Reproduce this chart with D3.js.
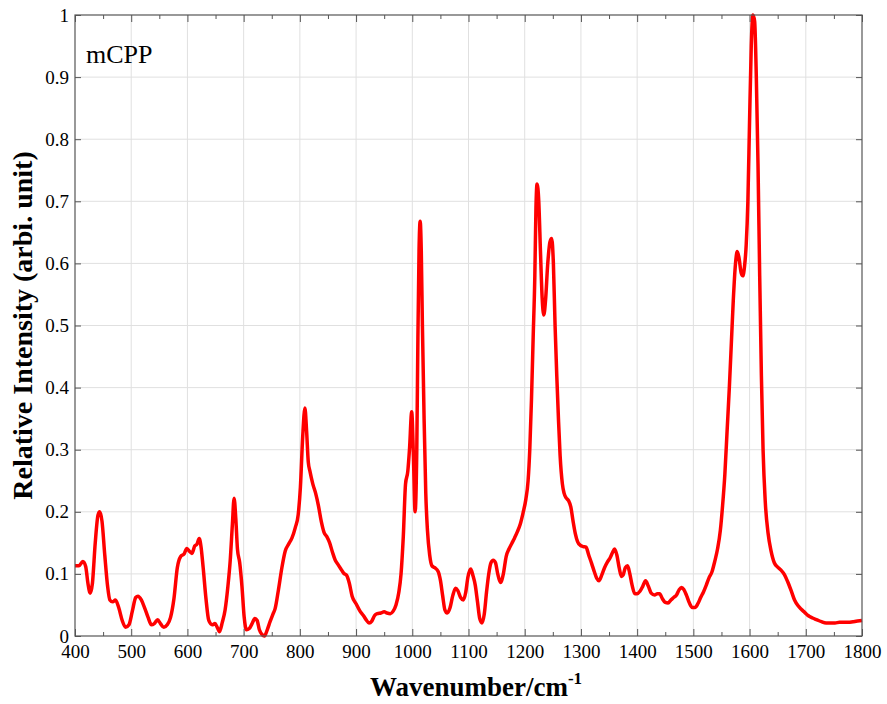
<!DOCTYPE html>
<html>
<head>
<meta charset="utf-8">
<script src="https://cdn.jsdelivr.net/npm/d3@7"></script>
<style>
  body { margin: 0; background: #fff; }
  svg { display: block; font-family: "Liberation Serif", "Times New Roman", serif; }
</style>
</head>
<body>
<svg id="chart" width="887" height="704"></svg>
<script>
// Raman spectrum of mCPP
var wavenumber = [
  400, 407, 414, 419, 423, 427, 431, 436, 441, 444, 448, 453, 458, 462, 467, 472, 478, 484, 490, 496,
  502, 508, 512, 518, 524, 530, 536, 541, 547, 552, 558, 564, 570, 576, 582, 588, 594, 599, 604, 608,
  613, 617, 621, 624, 628, 633, 638, 644, 649, 653, 657, 662, 667, 672, 676, 680, 683, 686, 689, 693,
  697, 701, 705, 710, 715, 720, 724, 728, 733, 737, 742, 747, 752, 756, 762, 768, 774, 780, 786, 792,
  797, 801, 805, 809, 812, 815, 818, 823, 828, 833, 838, 843, 848, 853, 858, 863, 868, 873, 878, 883,
  888, 893, 900, 907, 913, 918, 923, 928, 933, 938, 944, 950, 955, 961, 966, 971, 976, 980, 984, 988,
  992, 995, 999, 1002, 1005, 1008, 1010, 1012, 1014, 1016, 1018, 1021, 1024, 1027, 1031, 1035, 1040, 1046, 1050, 1054,
  1058, 1062, 1067, 1072, 1077, 1081, 1086, 1091, 1095, 1099, 1104, 1108, 1112, 1116, 1120, 1124, 1128, 1132, 1136, 1140,
  1144, 1148, 1152, 1157, 1162, 1167, 1172, 1177, 1182, 1187, 1192, 1197, 1202, 1206, 1209, 1212, 1215, 1218, 1220, 1222,
  1225, 1228, 1231, 1234, 1237, 1241, 1245, 1248, 1251, 1254, 1257, 1260, 1263, 1267, 1270, 1274, 1278, 1282, 1286, 1290,
  1294, 1299, 1304, 1309, 1314, 1319, 1324, 1328, 1332, 1337, 1342, 1347, 1352, 1356, 1360, 1364, 1368, 1372, 1375, 1379,
  1383, 1387, 1391, 1396, 1400, 1405, 1410, 1415, 1420, 1425, 1431, 1436, 1440, 1445, 1450, 1455, 1460, 1465, 1470, 1475,
  1479, 1483, 1488, 1493, 1498, 1503, 1508, 1513, 1518, 1523, 1528, 1533, 1538, 1543, 1548, 1552, 1556, 1560, 1564, 1568,
  1571, 1575, 1578, 1581, 1585, 1588, 1591, 1594, 1597, 1600, 1603, 1606, 1609, 1612, 1615, 1618, 1621, 1624, 1628, 1633,
  1638, 1644, 1650, 1656, 1662, 1668, 1674, 1680, 1686, 1692, 1698, 1704, 1712, 1720, 1728, 1736, 1744, 1752, 1760, 1768,
  1776, 1784, 1792, 1800
];
var intensity = [
  0.113, 0.113, 0.120, 0.112, 0.085, 0.069, 0.085, 0.150, 0.195, 0.200, 0.185, 0.130, 0.080, 0.058, 0.055, 0.058, 0.045, 0.025, 0.014, 0.018,
  0.040, 0.062, 0.064, 0.058, 0.045, 0.030, 0.018, 0.020, 0.026, 0.020, 0.014, 0.018, 0.030, 0.060, 0.110, 0.128, 0.132, 0.141, 0.136, 0.133,
  0.145, 0.148, 0.157, 0.145, 0.110, 0.060, 0.025, 0.018, 0.020, 0.014, 0.007, 0.022, 0.042, 0.080, 0.120, 0.180, 0.222, 0.190, 0.140, 0.118,
  0.080, 0.030, 0.010, 0.012, 0.020, 0.028, 0.025, 0.010, 0.002, 0.000, 0.010, 0.023, 0.035, 0.044, 0.075, 0.110, 0.137, 0.148, 0.158, 0.175,
  0.195, 0.240, 0.320, 0.367, 0.330, 0.280, 0.265, 0.245, 0.230, 0.210, 0.185, 0.167, 0.160, 0.150, 0.135, 0.122, 0.115, 0.108, 0.101, 0.098,
  0.085, 0.064, 0.052, 0.040, 0.033, 0.026, 0.021, 0.024, 0.033, 0.036, 0.037, 0.039, 0.037, 0.036, 0.040, 0.050, 0.070, 0.100, 0.160, 0.245,
  0.265, 0.300, 0.361, 0.290, 0.200, 0.300, 0.480, 0.620, 0.668, 0.620, 0.500, 0.350, 0.230, 0.170, 0.130, 0.113, 0.110, 0.104, 0.090, 0.065,
  0.042, 0.037, 0.045, 0.065, 0.077, 0.073, 0.062, 0.058, 0.070, 0.095, 0.108, 0.097, 0.082, 0.055, 0.028, 0.021, 0.035, 0.070, 0.100, 0.118,
  0.122, 0.118, 0.100, 0.086, 0.100, 0.128, 0.140, 0.149, 0.158, 0.168, 0.180, 0.198, 0.220, 0.250, 0.300, 0.380, 0.480, 0.580, 0.690, 0.728,
  0.700, 0.620, 0.545, 0.517, 0.540, 0.600, 0.635, 0.640, 0.600, 0.500, 0.420, 0.350, 0.290, 0.245, 0.230, 0.222, 0.218, 0.208, 0.185, 0.165,
  0.152, 0.146, 0.144, 0.143, 0.130, 0.117, 0.103, 0.093, 0.089, 0.098, 0.110, 0.119, 0.126, 0.134, 0.140, 0.130, 0.110, 0.096, 0.098, 0.110,
  0.113, 0.100, 0.082, 0.068, 0.068, 0.072, 0.080, 0.089, 0.080, 0.069, 0.066, 0.068, 0.068, 0.060, 0.054, 0.053, 0.058, 0.062, 0.066, 0.075,
  0.078, 0.075, 0.065, 0.053, 0.046, 0.046, 0.052, 0.062, 0.071, 0.082, 0.094, 0.103, 0.120, 0.140, 0.170, 0.210, 0.260, 0.330, 0.400, 0.480,
  0.540, 0.600, 0.619, 0.610, 0.585, 0.580, 0.595, 0.630, 0.700, 0.830, 0.950, 1.000, 0.990, 0.900, 0.760, 0.580, 0.420, 0.300, 0.215, 0.165,
  0.138, 0.118, 0.111, 0.106, 0.099, 0.087, 0.073, 0.058, 0.049, 0.043, 0.038, 0.033, 0.029, 0.026, 0.023, 0.021, 0.021, 0.021, 0.022, 0.022,
  0.022, 0.023, 0.024, 0.025
];
var xTicks = [400, 500, 600, 700, 800, 900, 1000, 1100, 1200, 1300, 1400, 1500, 1600, 1700, 1800];
var xMinorTicks = [450, 550, 650, 750, 850, 950, 1050, 1150, 1250, 1350, 1450, 1550, 1650, 1750];
var yTicks = [0, 0.1, 0.2, 0.3, 0.4, 0.5, 0.6, 0.7, 0.8, 0.9, 1];
var yTickLabels = ["0", "0.1", "0.2", "0.3", "0.4", "0.5", "0.6", "0.7", "0.8", "0.9", "1"];

var margin = {top: 15, right: 25, bottom: 68, left: 75};
var width = 887 - margin.left - margin.right;
var height = 704 - margin.top - margin.bottom;

var svg = d3.select("#chart");
var g = svg.append("g").attr("transform", "translate(" + margin.left + "," + margin.top + ")");

var x = d3.scaleLinear().domain([400, 1800]).range([0, width]);
var y = d3.scaleLinear().domain([0, 1]).range([height, 0]);

// grid
g.append("g").selectAll("line").data(xTicks.slice(1, -1)).join("line")
  .attr("x1", d => x(d)).attr("x2", d => x(d))
  .attr("y1", 0).attr("y2", height)
  .attr("stroke", "#e0e0e0").attr("stroke-width", 1);
g.append("g").selectAll("line").data(yTicks.slice(1, -1)).join("line")
  .attr("x1", 0).attr("x2", width)
  .attr("y1", d => y(d)).attr("y2", d => y(d))
  .attr("stroke", "#e0e0e0").attr("stroke-width", 1);

// spectrum
var points = wavenumber.map((w, i) => [w, intensity[i]]);
var line = d3.line()
  .x(d => x(d[0]))
  .y(d => y(d[1]))
  .curve(d3.curveMonotoneX);

g.append("path")
  .datum(points)
  .attr("fill", "none")
  .attr("stroke", "#ff0000")
  .attr("stroke-width", 3.5)
  .attr("stroke-linejoin", "round")
  .attr("d", line);

// axes, ticks point inwards
g.append("g")
  .attr("transform", "translate(0," + height + ")")
  .call(d3.axisBottom(x).tickValues(xTicks).tickSize(-7).tickPadding(9).tickFormat(d3.format("d")));
g.append("g")
  .attr("transform", "translate(0," + height + ")")
  .call(d3.axisBottom(x).tickValues(xMinorTicks).tickSize(-4).tickFormat(""));
g.append("g")
  .call(d3.axisTop(x).tickValues(xTicks).tickSize(-7).tickFormat(""));
g.append("g")
  .call(d3.axisTop(x).tickValues(xMinorTicks).tickSize(-4).tickFormat(""));
g.append("g")
  .call(d3.axisLeft(y).tickValues(yTicks).tickSize(-6).tickPadding(6).tickFormat((d, i) => yTickLabels[i]));
g.append("g")
  .attr("transform", "translate(" + width + ",0)")
  .call(d3.axisRight(y).tickValues(yTicks).tickSize(-6).tickFormat(""));

g.selectAll(".domain").remove();
g.selectAll(".tick line").attr("stroke", "#555");
g.selectAll(".tick text")
  .attr("fill", "#000")
  .style("font-family", "'Liberation Serif', serif")
  .style("font-size", "19px");

// frame
g.append("rect")
  .attr("width", width).attr("height", height)
  .attr("fill", "none").attr("stroke", "#555").attr("stroke-width", 1.2);

// labels
g.append("text")
  .attr("x", 11).attr("y", 48)
  .style("font-size", "26px")
  .text("mCPP");

var xTitle = svg.append("text")
  .attr("x", 476).attr("y", 696)
  .attr("text-anchor", "middle")
  .style("font-size", "27px").style("font-weight", "bold");
xTitle.append("tspan").text("Wavenumber/cm");
xTitle.append("tspan").attr("dy", -12).style("font-size", "17px").text("-1");

svg.append("text")
  .attr("transform", "translate(32," + (margin.top + height / 2) + ") rotate(-90)")
  .attr("text-anchor", "middle")
  .style("font-size", "28px").style("font-weight", "bold")
  .text("Relative Intensity (arbi. unit)");
</script>
</body>
</html>
